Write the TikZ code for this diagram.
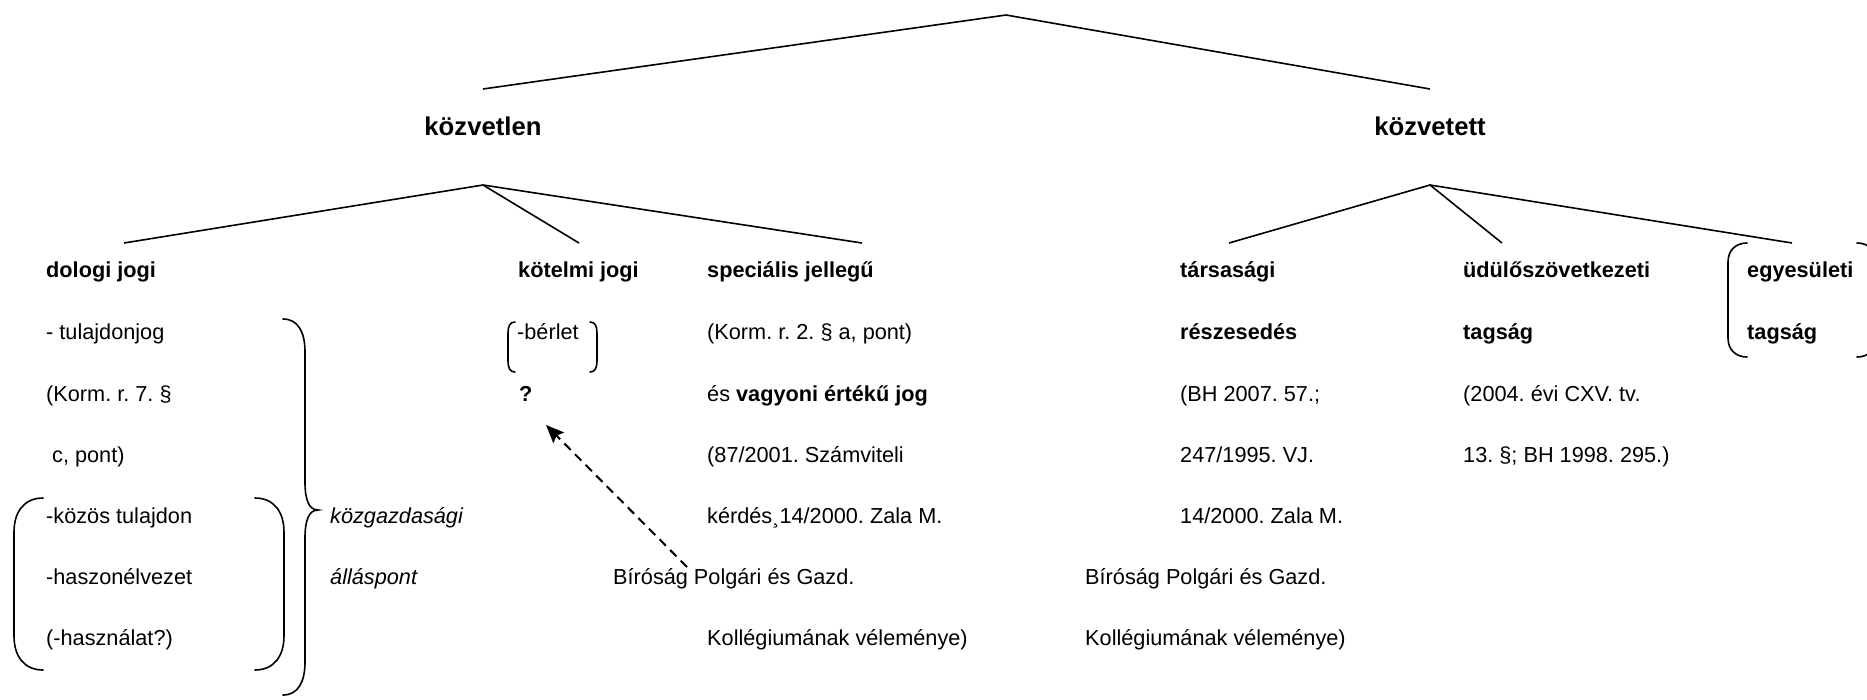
\documentclass[tikz,border=0pt]{standalone}
\usepackage{fontspec}
\setmainfont{Liberation Sans}
\usetikzlibrary{arrows.meta}
\frenchspacing
\tikzset{
  x=1pt, y=-1pt,
  txt/.style={anchor=base west, inner sep=0pt, font=\fontsize{21.7}{26}\selectfont},
  btxt/.style={txt, font=\fontsize{21.7}{26}\selectfont\bfseries},
  itxt/.style={txt, font=\fontsize{21.7}{26}\selectfont\itshape},
  head/.style={anchor=base, inner sep=0pt, font=\fontsize{25.7}{30}\selectfont\bfseries},
  branch/.style={line width=1.6pt},
  brace/.style={line width=1.6pt, line cap=round},
  dasharrow/.style={line width=2pt, dash pattern=on 9pt off 6pt, -{Stealth[length=18pt,width=15pt,inset=3pt]}}
}
\begin{document}
\begin{tikzpicture}
\frenchspacing
\useasboundingbox (0,0) rectangle (1867,699);
% tree coordinates
\coordinate (root) at (1006,15);
\coordinate (kvlT) at (483,89);
\coordinate (kvtT) at (1430,89);
\coordinate (kvlB) at (483,185);
\coordinate (kvtB) at (1430,185);
\coordinate (c1) at (124,243);
\coordinate (c2) at (579,243);
\coordinate (c3) at (862,243);
\coordinate (c4) at (1229,243);
\coordinate (c5) at (1502,243);
\coordinate (c6) at (1792,243);
% level labels
\node[head] (kvl) at (483,135) {közvetlen};
\node[head] (kvt) at (1430,135) {közvetett};
% tree lines
\draw[branch] (kvlT) -- (root) -- (kvtT);
\draw[branch] (kvlB) -- (c1);
\draw[branch] (kvlB) -- (c2);
\draw[branch] (kvlB) -- (c3);
\draw[branch] (kvtB) -- (c4);
\draw[branch] (kvtB) -- (c5);
\draw[branch] (kvtB) -- (c6);
% left column
\node[btxt] (dol) at (46,277) {dologi jogi};
\node[txt] (l1) at (46,339) {- tulajdonjog};
\node[txt] (l2) at (46,401) {(Korm. r. 7. §};
\node[txt] (l3) at (52,462) {c, pont)};
\node[txt] (l4) at (46,523) {-közös tulajdon};
\node[txt] (l5) at (46,584) {-haszonélvezet};
\node[txt] (l6) at (46,645) {(-használat?)};
\node[itxt] (kg1) at (330,523) {közgazdasági};
\node[itxt] (kg2) at (330,584) {álláspont};
% small parens around közös group
\draw[brace] (43,498) .. controls (24,498) and (14,512) .. (14,532) -- (14,636) .. controls (14,656) and (24,670) .. (43,670);
\draw[brace] (255,498) .. controls (274,498) and (284,512) .. (284,532) -- (284,636) .. controls (284,656) and (274,670) .. (255,670);
% big curly brace
\draw[brace] (283,319) .. controls (298,319) and (305,332) .. (305,352) -- (305,482) .. controls (305,500) and (309,510) .. (318,510)
  .. controls (309,510) and (305,520) .. (305,538) -- (305,662) .. controls (305,682) and (298,695) .. (283,695);
% kötelmi column
\node[btxt] (kot) at (518,277) {kötelmi jogi};
\node[txt] (berlet) at (517,339) {-bérlet};
\node[btxt] (q) at (519,401) {?};
\draw[brace] (515,322) .. controls (510,322) and (508,326) .. (508,333) -- (508,361) .. controls (508,368) and (510,372) .. (515,372);
\draw[brace] (590,322) .. controls (595,322) and (597,326) .. (597,333) -- (597,361) .. controls (597,368) and (595,372) .. (590,372);
% speciális column
\node[btxt] (spec) at (707,277) {speciális jellegű};
\node[txt] (s1) at (707,339) {(Korm. r. 2. § a, pont)};
\node[txt] (s2) at (707,401) {és \textbf{vagyoni értékű jog}};
\node[txt] (s3) at (707,462) {(87/2001. Számviteli};
\node[txt] (s4) at (707,523) {kérdés¸14/2000. Zala M.};
\node[txt] (s5) at (613,584) {Bíróság Polgári és Gazd.};
\node[txt] (s6) at (707,645) {Kollégiumának véleménye)};
% dashed arrow
\coordinate (arrT) at (687,567);
\coordinate (arrH) at (546,425);
\draw[dasharrow] (arrT) -- (arrH);
% társasági column
\node[btxt] (tar) at (1180,277) {társasági};
\node[btxt] (t1) at (1180,339) {részesedés};
\node[txt] (t2) at (1180,401) {(BH 2007. 57.;};
\node[txt] (t3) at (1180,462) {247/1995. VJ.};
\node[txt] (t4) at (1180,523) {14/2000. Zala M.};
\node[txt] (t5) at (1085,584) {Bíróság Polgári és Gazd.};
\node[txt] (t6) at (1085,645) {Kollégiumának véleménye)};
% üdülő column
\node[btxt] (udu) at (1463,277) {üdülőszövetkezeti};
\node[btxt] (u1) at (1463,339) {tagság};
\node[txt] (u2) at (1463,401) {(2004. évi CXV. tv.};
\node[txt] (u3) at (1463,462) {13. §; BH 1998. 295.)};
% egyesületi column
\node[btxt] (egy) at (1747,277) {egyesületi};
\node[btxt] (e1) at (1747,339) {tagság};
\draw[brace] (1747,243) .. controls (1736,243) and (1728,250) .. (1728,262) -- (1728,338) .. controls (1728,350) and (1736,357) .. (1747,357);
\draw[brace] (1857,243) .. controls (1868,243) and (1876,250) .. (1876,262) -- (1876,338) .. controls (1876,350) and (1868,357) .. (1857,357);
\end{tikzpicture}
\end{document}
